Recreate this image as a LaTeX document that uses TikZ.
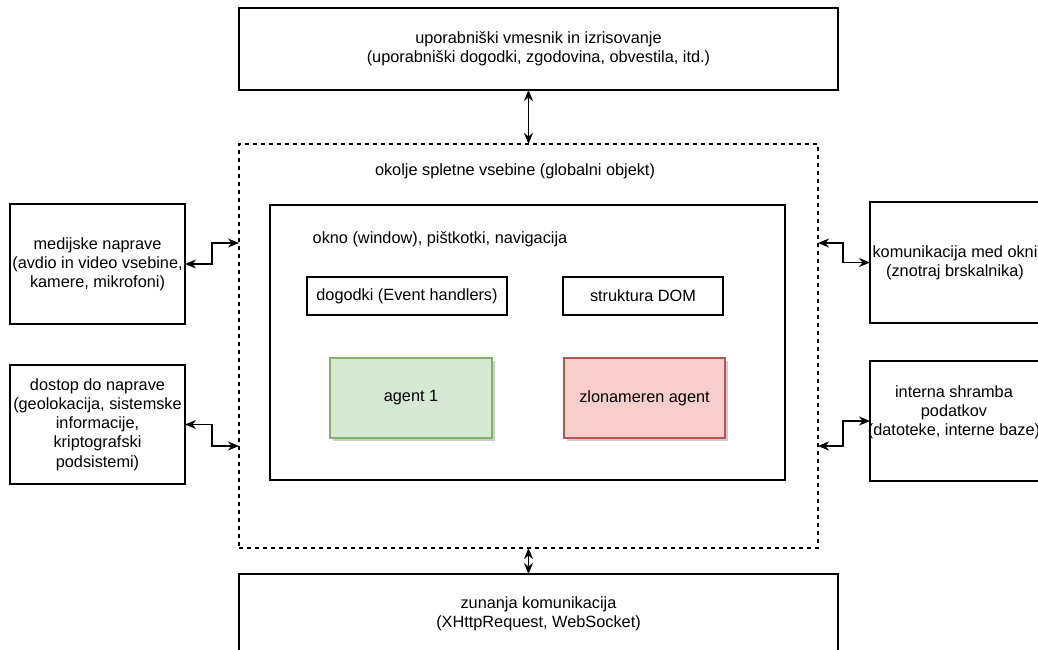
\documentclass[tikz,border=0pt]{standalone}
\usepackage{fontspec}
\setmainfont{Liberation Sans}
\usetikzlibrary{arrows.meta,shadows,calc}
\definecolor{agfill}{HTML}{D5E8D4}
\definecolor{agline}{HTML}{82B366}
\definecolor{mafill}{HTML}{F8CECC}
\definecolor{maline}{HTML}{B85450}
\begin{document}
\begin{tikzpicture}[x=1pt,y=-1pt,
  font=\fontsize{16.3}{19.2}\selectfont,
  every node/.style={inner sep=0pt, outer sep=0pt, align=center},
  box/.style={draw=black, line width=1.3pt, fill=white},
  dashbox/.style={draw=black, line width=1.3pt, dash pattern=on 4pt off 4pt},
  conn/.style={line width=1.3pt, {Stealth[length=11pt,width=9pt,inset=3.5pt]}-{Stealth[length=11pt,width=9pt,inset=3.5pt]}},
  agshadow/.style={drop shadow={shadow xshift=3pt, shadow yshift=-3pt, fill=black, opacity=0.2}}
]
\useasboundingbox (0,0) rectangle (1038,650);
\clip (0,0) rectangle (1038,650);

% containers
\node[dashbox, minimum width=579pt, minimum height=404pt] (env) at (528.5,346) {};
\node (envtext) at (515,171) {okolje spletne vsebine (globalni objekt)};
\node[box, minimum width=515pt, minimum height=275pt] (inner) at (527.5,342.5) {};
\node (innertext) at (440,239) {okno (window), pištkotki, navigacija};

% inner boxes
\node[box, minimum width=200pt, minimum height=38pt] (events) at (407,296) {dogodki (Event handlers)};
\node[box, minimum width=160pt, minimum height=38pt] (dom) at (643,296) {struktura DOM};
\node[draw=agline, fill=agfill, line width=1.3pt, agshadow, minimum width=162pt, minimum height=80pt] (agent) at (411,398) {agent 1};
\node[draw=maline, fill=mafill, line width=1.3pt, agshadow, minimum width=161pt, minimum height=80pt] (mal) at (644.5,398) {zlonameren agent};

% outer boxes
\node[box, minimum width=599pt, minimum height=82pt] (top) at (538.5,49) {uporabniški vmesnik in izrisovanje\\(uporabniški dogodki, zgodovina, obvestila, itd.)};
\node[box, minimum width=599pt, minimum height=80pt] (bottom) at (538.5,614) {zunanja komunikacija\\(XHttpRequest, WebSocket)};
\node[box, minimum width=175pt, minimum height=120pt] (left1) at (97.5,264) {medijske naprave\\(avdio in video vsebine,\\kamere, mikrofoni)};
\node[box, minimum width=175pt, minimum height=119pt] (left2) at (97.5,424.5) {dostop do naprave\\(geolokacija, sistemske\\informacije,\\kriptografski\\podsistemi)};
\node[box, minimum width=170pt, minimum height=121pt] (right1) at (955,262.5) {};
\node (right1text) at (955,262.5) {komunikacija med okni\\(znotraj brskalnika)};
\node[box, minimum width=170pt, minimum height=120pt] (right2) at (955,421) {};
\node (right2text) at (954,412) {interna shramba\\podatkov\\(datoteke, interne baze)};

% attachment points on the dashed container
\coordinate (eL1) at (239,243);
\coordinate (eL2) at (239,446);
\coordinate (eR1) at (818,243);
\coordinate (eR2) at (818,446);

% connectors
\draw[conn] (top.south -| env.north) -- (env.north);
\draw[conn] (env.south) -- (env.south |- bottom.north);
\draw[conn] (left1.east) -- ++(27,0) |- (eL1);
\draw[conn] (left2.east) -- ++(27,0) |- (eL2);
\draw[conn] (eR1) -- ++(25,0) |- (right1.west);
\draw[conn] (eR2) -- ++(25,0) |- (right2.west);
\end{tikzpicture}
\end{document}
